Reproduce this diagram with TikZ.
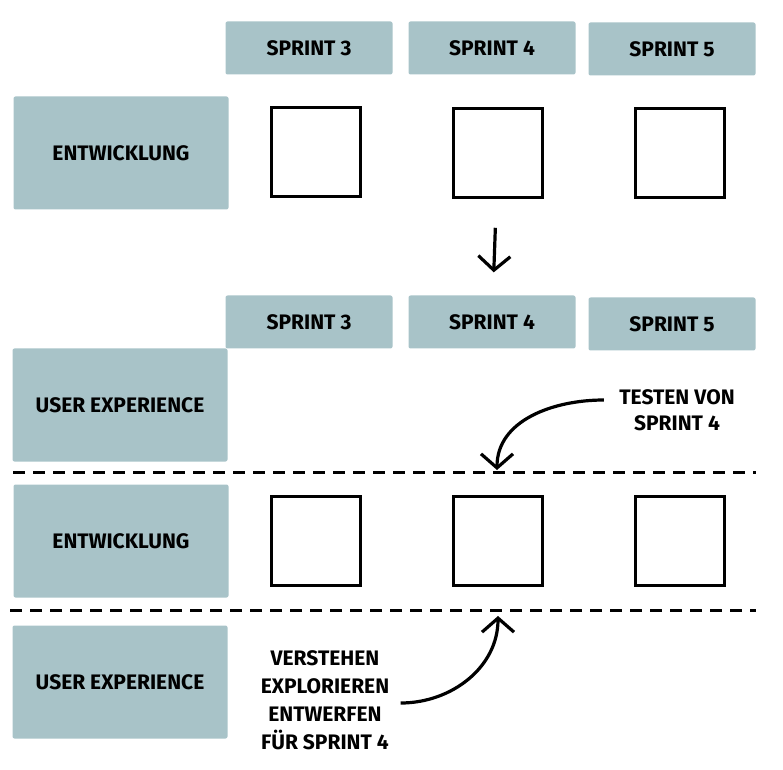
\documentclass[tikz,border=0pt]{standalone}
\usepackage{fontspec}
\setmainfont{Fira Sans}
\usepackage{xcolor}
\usetikzlibrary{arrows.meta}
\definecolor{lanegray}{HTML}{A8C3C8}

\begin{document}
\begin{tikzpicture}[x=1pt,y=1pt,
  font=\fontsize{21}{26}\selectfont\bfseries,
  sprint/.style={fill=lanegray,rounded corners=2pt,minimum width=167pt,minimum height=53pt,inner sep=0pt},
  lane/.style={fill=lanegray,rounded corners=2pt,minimum width=215pt,minimum height=113pt,inner sep=0pt},
  card/.style={draw,line width=2.6pt,minimum width=89pt,minimum height=89pt,inner sep=0pt},
  sep/.style={line width=3pt,dash pattern=on 12pt off 8pt},
  arr/.style={line width=3.2pt,-{Straight Barb[length=14pt,width=32pt]}}]
  \useasboundingbox (0,0) rectangle (783,769);
  % before: one lane only
  \node[sprint] (hd3a) at (309,721) {SPRINT 3};
  \node[sprint] (hd4a) at (492,721) {SPRINT 4};
  \node[sprint] (hd5a) at (672,720) {SPRINT 5};
  \node[lane] (dev1) at (121,616) {ENTWICKLUNG};
  \node[card] (sq3a) at (316,617) {};
  \node[card] (sq4a) at (498,616) {};
  \node[card] (sq5a) at (680,616) {};
  % after: ux runs ahead and behind
  \node[sprint] (hd3b) at (309,447) {SPRINT 3};
  \node[sprint] (hd4b) at (492,447) {SPRINT 4};
  \node[sprint] (hd5b) at (672,445) {SPRINT 5};
  \node[lane] (ux1) at (120,364) {USER EXPERIENCE};
  \node[lane] (dev2) at (121,228) {ENTWICKLUNG};
  \node[lane] (ux2) at (120,87) {USER EXPERIENCE};
  \node[card] (sq3b) at (316,228) {};
  \node[card] (sq4b) at (498,228) {};
  \node[card] (sq5b) at (680,228) {};
  \draw[sep] (13,297) -- (756,297);
  \draw[sep] (10,159) -- (756,159);
  \node[align=center] (test) at (677,359) {TESTEN VON\\SPRINT 4};
  \node[align=center,font=\fontsize{21}{28}\selectfont\bfseries] (plan) at (325,69)
    {VERSTEHEN\\EXPLORIEREN\\ENTWERFEN\\FÜR SPRINT 4};
  \coordinate (t4) at (497,299);
  \coordinate (u4) at (498,153);
  \draw[arr,shorten <=29pt,shorten >=23pt] (sq4a) -- (hd4b);
  \draw[arr] ([xshift=-12pt,yshift=10pt]test.west) to[out=180,in=90] (t4);
  \draw[arr] ([xshift=8pt,yshift=-3pt]plan.east) to[out=0,in=-90] (u4);
\end{tikzpicture}
\end{document}
